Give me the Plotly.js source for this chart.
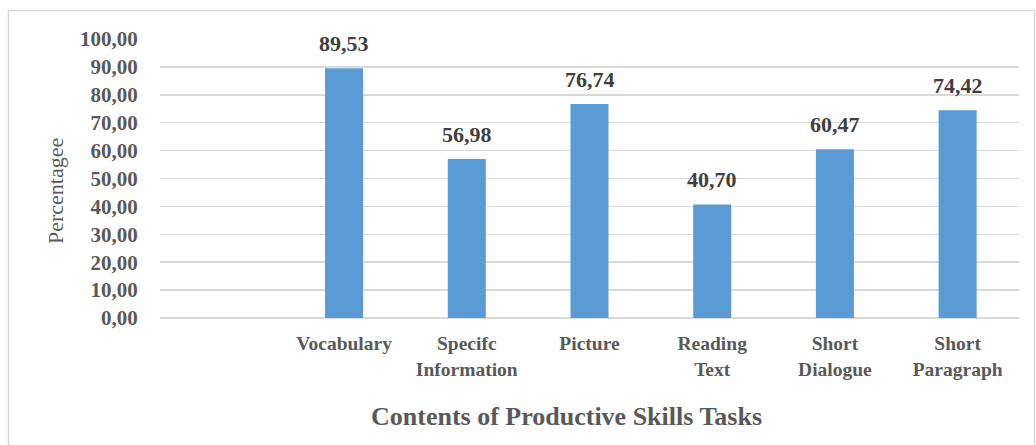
<!DOCTYPE html>
<html>
<head>
<meta charset="utf-8">
<script src="https://cdn.plot.ly/plotly-3.0.1.min.js"></script>
<style>
html,body{margin:0;padding:0;background:#fff;}
#chart{width:1036px;height:445px;}
</style>
</head>
<body>
<div id="chart"></div>
<script>
const categories = ["", "Vocabulary", "Specifc<br>Information", "Picture", "Reading<br>Text", "Short<br>Dialogue", "Short<br>Paragraph"];
const values = [null, 89.53, 56.98, 76.74, 40.70, 60.47, 74.42];
const labels = ["", "89,53", "56,98", "76,74", "40,70", "60,47", "74,42"];
const yTitle = "Percentagee";
const xTitle = "Contents of Productive Skills Tasks";

const FONT = "Liberation Serif, Times New Roman, serif";
const W = 1036, H = 445;
const M = {l:160, r:17, t:39, b:127};
const pw = W - M.l - M.r, ph = H - M.t - M.b;
const px = x => (x - M.l) / pw;
const py = y => (H - M.b - y) / ph;

const trace = {
  type: 'bar',
  x: categories,
  y: values,
  marker: {color: '#5b9bd5'},
  hoverinfo: 'none'
};

const valueAnnotations = categories.map((c, i) => values[i] == null ? null : ({
  x: c, y: values[i], xref: 'x', yref: 'y', text: labels[i],
  showarrow: false, xanchor: 'center', yanchor: 'bottom', yshift: 10,
  font: {family: FONT, size: 22, color: '#404040', weight: 'bold'}
})).filter(a => a);

const layout = {
  width: W, height: H,
  margin: M,
  paper_bgcolor: '#fff',
  plot_bgcolor: '#fff',
  separators: ',.',
  showlegend: false,
  bargap: 0.69,
  font: {family: FONT, color: '#595959'},
  xaxis: {
    type: 'category',
    showgrid: false,
    showline: false,
    zeroline: false,
    ticks: 'outside', ticklen: 8, tickcolor: 'rgba(0,0,0,0)',
    tickfont: {family: FONT, size: 19.5, color: '#595959', weight: 'bold'},
    fixedrange: true
  },
  yaxis: {
    range: [0, 100],
    dtick: 10,
    tickformat: '.2f',
    showgrid: true, gridcolor: '#d9d9d9', gridwidth: 1.5,
    zeroline: true, zerolinecolor: '#d9d9d9', zerolinewidth: 1.5,
    showline: false,
    ticks: 'outside', ticklen: 17, tickcolor: 'rgba(0,0,0,0)',
    tickfont: {family: FONT, size: 21, color: '#595959', weight: 'bold'},
    fixedrange: true
  },
  annotations: [
    {text: yTitle, xref: 'paper', yref: 'paper', x: px(55), y: py(191), textangle: -90,
     showarrow: false, xanchor: 'center', yanchor: 'middle',
     font: {family: FONT, size: 22, color: '#595959'}},
    {text: xTitle, xref: 'paper', yref: 'paper', x: px(566), y: py(416),
     showarrow: false, xanchor: 'center', yanchor: 'middle',
     font: {family: FONT, size: 26, color: '#595959', weight: 'bold'}}
  ].concat(valueAnnotations),
  shapes: [
    {type: 'rect', xref: 'paper', yref: 'paper', x0: px(8.5), x1: px(1034.5), y0: py(460), y1: py(10.5),
     line: {color: '#d9d9d9', width: 1.5}, fillcolor: 'rgba(0,0,0,0)', layer: 'below'}
  ]
};

Plotly.newPlot('chart', [trace], layout, {staticPlot: true, displayModeBar: false});
</script>
</body>
</html>
